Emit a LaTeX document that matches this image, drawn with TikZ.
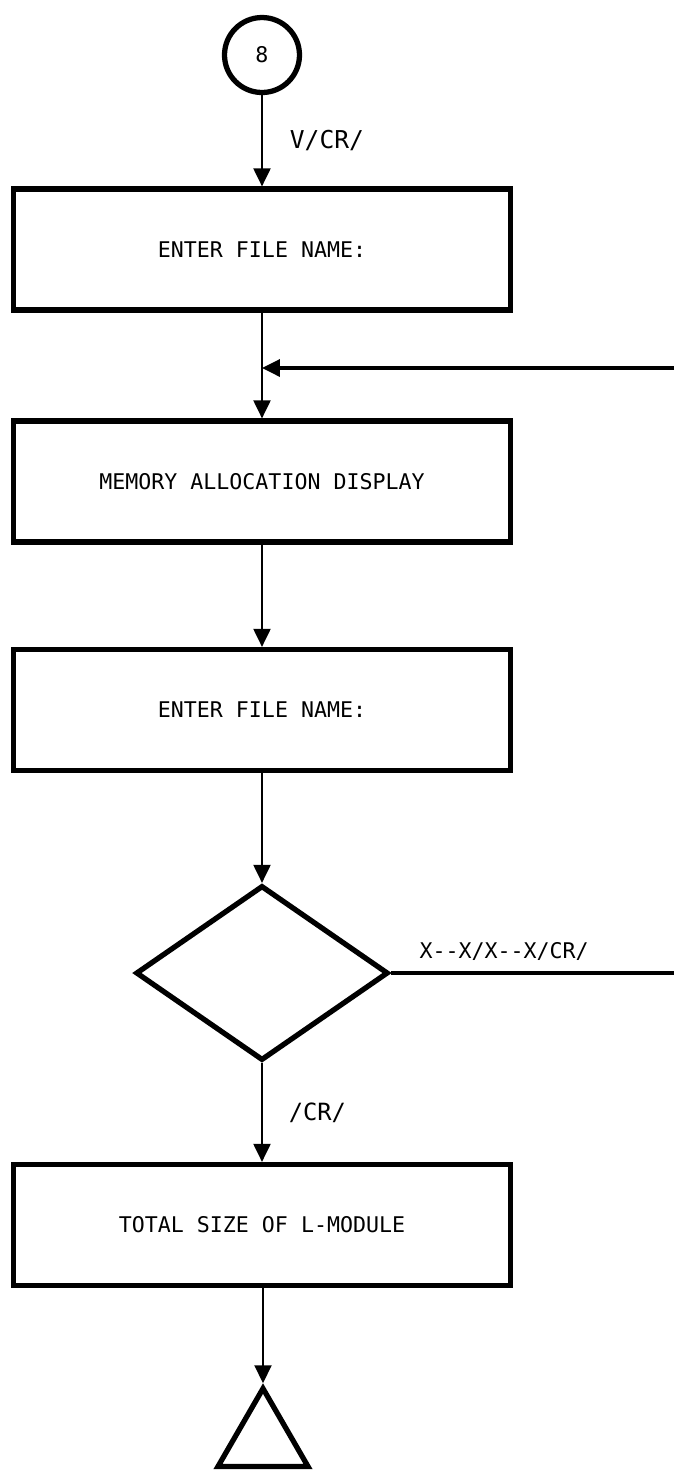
\documentclass[tikz,border=0pt]{standalone}
\usepackage{fontspec}
\setmainfont{DejaVu Sans Mono}
\usetikzlibrary{shapes.geometric, positioning, arrows.meta}

\tikzset{
  block/.style={rectangle, draw, line width=3pt, minimum width=9.95cm, minimum height=2.42cm, font=\fontsize{12.3}{15}\selectfont},
  decision/.style={diamond, draw, line width=3pt, minimum width=5.05cm, minimum height=3.5cm, inner sep=0pt},
  joint/.style={circle, draw, line width=3pt, minimum size=1.5cm, inner sep=0pt, font=\fontsize{12.3}{15}\selectfont},
  stopmark/.style={regular polygon, regular polygon sides=3, draw, line width=3pt, minimum size=2.08cm, inner sep=0pt},
  flow/.style={-{Triangle[width=0.34cm,length=0.36cm]}, line width=1.2pt},
  backline/.style={line width=2pt},
  tag/.style={font=\fontsize{14}{16}\selectfont}
}

\begin{document}
\begin{tikzpicture}[x=0.02cm, y=-0.02cm]
\useasboundingbox (0,0) rectangle (674,1472);

% boxes and symbols
\node[joint] (start) at (262,55) {8};
\node[block] (askname) at (262,249.5) {ENTER FILE NAME:};
\node[block] (memmap) at (262,481.5) {MEMORY ALLOCATION DISPLAY};
\node[block] (askagain) at (262,710) {ENTER FILE NAME:};
\node[decision] (check) at (262,973) {};
\node[block] (total) at (262,1225) {TOTAL SIZE OF L-MODULE};
\node[stopmark] (finish) at (263,1440.5) {};

% loop back points
\coordinate (backlow) at (674,973);
\coordinate (backtop) at (674,368);
\coordinate (merge) at (262,368);

% main flow
\draw[flow] (start) -- node[midway, anchor=west, xshift=0.42cm, tag] {V/CR/} (askname);
\draw[flow] (askname) -- (memmap);
\draw[flow] (memmap) -- (askagain);
\draw[flow] (askagain) -- (check);
\draw[flow] (check) -- node[midway, anchor=west, xshift=0.4cm, font=\fontsize{13.5}{16}\selectfont] {/CR/} (total);
\draw[flow] (total.south -| finish.corner 1) -- (finish.corner 1);

% return path
\draw[backline] (check.east) -- node[pos=.4, above=3pt, font=\fontsize{12.3}{15}\selectfont] {X-{}-X/X-{}-X/CR/} (backlow);
\draw[backline, -{Triangle[width=0.34cm,length=0.36cm]}] (backtop) -- (merge);
\end{tikzpicture}
\end{document}
